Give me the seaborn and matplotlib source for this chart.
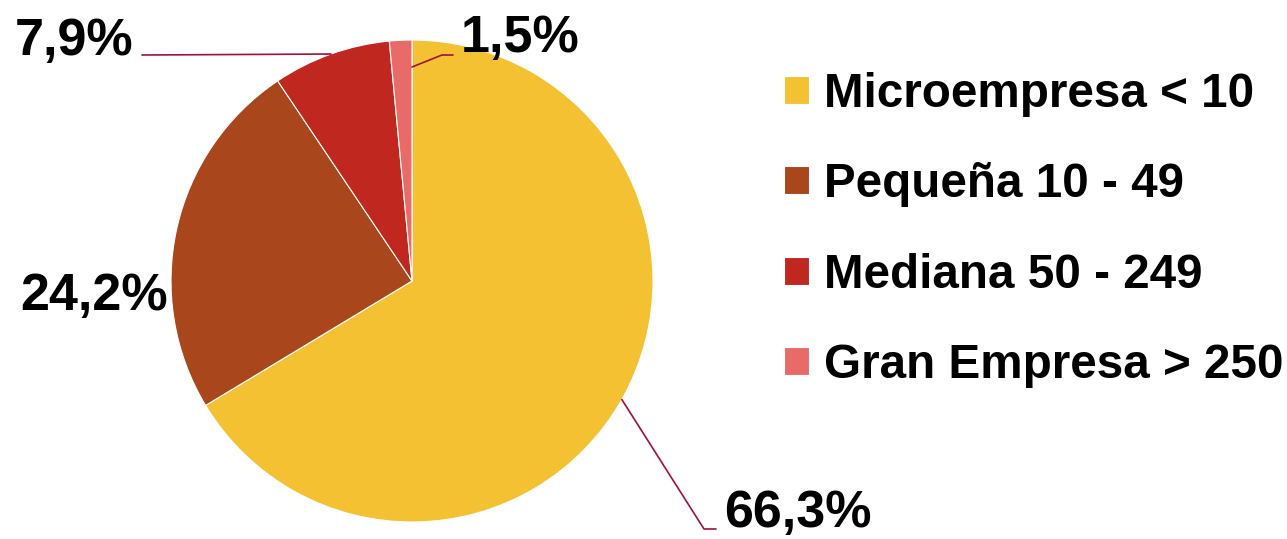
import matplotlib
matplotlib.use('Agg')
import matplotlib.pyplot as plt
import numpy as np
import seaborn as sns

sns.set_style('white')
plt.rcParams['font.family'] = ['Liberation Sans', 'DejaVu Sans']
plt.rcParams['font.weight'] = 'bold'
plt.rcParams['text.color'] = 'black'

# data
categories = ['Microempresa < 10', 'Pequeña 10 - 49', 'Mediana 50 - 249', 'Gran Empresa > 250']
shares = [66.3, 24.2, 7.9, 1.5]
share_labels = ['66,3%', '24,2%', '7,9%', '1,5%']
colors = sns.color_palette(['#F4C133', '#A9461B', '#C0271F', '#E96B67'])

line_color = '#A0103A'

fig = plt.figure(figsize=(12.87, 5.39), dpi=100)
W, H = 1287, 539
cx, cy, R = 412, 281, 241
ax = fig.add_axes([(cx - R) / W, (H - cy - R) / H, 2 * R / W, 2 * R / H])

wedges, _ = ax.pie(shares, colors=colors, startangle=90, counterclock=False,
                   wedgeprops=dict(edgecolor='white', linewidth=0.8))
ax.set_xlim(-1, 1)
ax.set_ylim(-1, 1)
ax.set_aspect('equal')
ax.axis('off')

def px(x, y):
    # pixel coords (from top-left) to data coords of the pie
    return (x - cx) / R, (cy - y) / R

def mid_point(w, r):
    a = np.deg2rad((w.theta1 + w.theta2) / 2)
    return r * np.cos(a), r * np.sin(a)

lab_size = 37.5

# 66,3% -> lower right with leader
p0 = mid_point(wedges[0], 1.0)
p1 = px(704, 529)
p2 = px(716, 529)
ax.plot([p0[0], p1[0], p2[0]], [p0[1], p1[1], p2[1]], color=line_color, lw=1.2, clip_on=False)
tx, ty = px(724, 527)
ax.text(tx, ty, share_labels[0], fontsize=lab_size, fontweight='bold', ha='left', va='baseline')

# 24,2% -> left, no leader
tx, ty = px(168, 310)
ax.text(tx, ty, share_labels[1], fontsize=lab_size, fontweight='bold', ha='right', va='baseline')

# 7,9% -> top left with leader
p0 = mid_point(wedges[2], 1.0)
p1 = px(142, 55)
ax.plot([p0[0], p1[0]], [p0[1], p1[1]], color=line_color, lw=1.2, clip_on=False)
tx, ty = px(133, 55)
ax.text(tx, ty, share_labels[2], fontsize=lab_size, fontweight='bold', ha='right', va='baseline')

# 1,5% -> top with leader
p0 = px(412, 67)
p1 = px(442, 55)
p2 = px(453, 55)
ax.plot([p0[0], p1[0], p2[0]], [p0[1], p1[1], p2[1]], color=line_color, lw=1.2, clip_on=False)
tx, ty = px(461, 52)
ax.text(tx, ty, share_labels[3], fontsize=lab_size, fontweight='bold', ha='left', va='baseline')

fig.legend(wedges, categories, loc='upper left', bbox_to_anchor=(784 / W, 1 - 72 / H),
           frameon=False, prop=dict(size=34.3, weight='bold'),
           handlelength=0.53, handleheight=0.53, handletextpad=0.3,
           labelspacing=0.95, borderaxespad=0, borderpad=0)

fig.savefig('out.png', dpi=100)
